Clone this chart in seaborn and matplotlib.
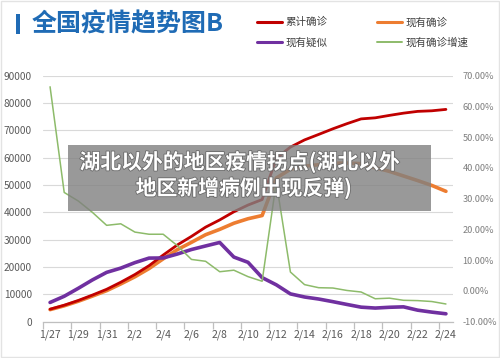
import matplotlib
matplotlib.use('Agg')
import matplotlib.pyplot as plt
import seaborn as sns
import pandas as pd
from matplotlib.patches import Rectangle
from matplotlib.lines import Line2D
from matplotlib.ticker import FuncFormatter, FixedLocator
import matplotlib.patheffects as pe

# ---------------- data ----------------
dates = ['1/27', '1/28', '1/29', '1/30', '1/31', '2/1', '2/2', '2/3', '2/4', '2/5',
         '2/6', '2/7', '2/8', '2/9', '2/10', '2/11', '2/12', '2/13', '2/14', '2/15',
         '2/16', '2/17', '2/18', '2/19', '2/20', '2/21', '2/22', '2/23', '2/24']
cumulative = [4515, 5974, 7711, 9692, 11791, 14380, 17205, 20438, 24324, 28018,
              31161, 34546, 37198, 40171, 42638, 44653, 59804, 63851, 66492, 68500,
              70548, 72436, 74185, 74576, 75465, 76288, 76936, 77150, 77658]
current = [4349, 5739, 7417, 9308, 11289, 13748, 16369, 19381, 22942, 26302,
           28985, 31774, 33738, 35982, 37626, 38800, 52526, 55748, 56873, 57416,
           57934, 58016, 57805, 56303, 54965, 53284, 51606, 49824, 47672]
suspected = [6973, 9239, 12167, 15238, 17988, 19544, 21558, 23214, 23260, 24702,
             26359, 27657, 28942, 23589, 21675, 16067, 13435, 10109, 8969, 8228,
             7264, 6242, 5248, 4922, 5206, 5365, 4148, 3434, 2824]
growth = [66.4, 32.0, 29.2, 25.5, 21.3, 21.8, 19.1, 18.4, 18.4, 14.7,
          10.2, 9.6, 6.2, 6.7, 4.6, 3.1, 35.4, 6.1, 2.0, 1.0,
          0.9, 0.1, -0.4, -2.6, -2.4, -3.1, -3.2, -3.5, -4.3]

series_names = ['累计确诊', '现有确诊', '现有疑似', '现有确诊增速']
series_colors = ['#C00000', '#ED7D31', '#7030A0', '#8DBB6A']
title = '全国疫情趋势图B'
overlay_lines = ['湖北以外的地区疫情拐点(湖北以外', '地区新增病例出现反弹)']

df = pd.DataFrame({'date': dates, 'cumulative': cumulative, 'current': current,
                   'suspected': suspected, 'growth': growth})

# ---------------- style ----------------
sns.set_theme(style='white')
plt.rcParams['font.family'] = ['Noto Sans CJK SC', 'DejaVu Sans']

W, H = 500, 358
fig = plt.figure(figsize=(W / 100, H / 100), dpi=100)
fig.patch.set_facecolor('white')

ax = fig.add_axes([43 / W, 1 - 321.5 / H, 410 / W, 245.8 / H])

sns.lineplot(data=df, x='date', y='current', ax=ax, color=series_colors[1],
             lw=2.6, sort=False)
sns.lineplot(data=df, x='date', y='cumulative', ax=ax, color=series_colors[0],
             lw=2.0, sort=False)
sns.lineplot(data=df, x='date', y='suspected', ax=ax, color=series_colors[2],
             lw=2.6, sort=False)

ax2 = ax.twinx()
sns.lineplot(data=df, x='date', y='growth', ax=ax2, color=series_colors[3],
             lw=1.1, sort=False)

ax.set_xlim(-0.5, len(dates) - 0.5)
ax.set_ylim(0, 90000)
ax.set_yticks(range(0, 90001, 10000))
ax2.set_ylim(-10, 70)
ax2.set_yticks(range(-10, 71, 10))
ax2.yaxis.set_major_formatter(FuncFormatter(lambda v, p: f'{v:.2f}%'))

ax.set_xticks(range(0, len(dates), 2))
ax.set_xticklabels(dates[::2])
ax.xaxis.set_minor_locator(FixedLocator([i - 0.5 for i in range(0, len(dates), 2)]))

ax.set_xlabel('')
ax.set_ylabel('')
ax2.set_ylabel('')
ax2.set_xlabel('')

ax.yaxis.grid(True, color='#d9d9d9', lw=0.8)
ax.xaxis.grid(False)
ax2.grid(False)

for s in ['left', 'right', 'top']:
    ax.spines[s].set_visible(False)
for s in ax2.spines.values():
    s.set_visible(False)
ax.spines['bottom'].set_color('#bfbfbf')
ax.spines['bottom'].set_linewidth(0.9)

ax.tick_params(axis='y', length=0, labelsize=7.3, labelcolor='#595959', pad=8)
ax.tick_params(axis='x', which='major', length=0, labelsize=7.6,
               labelcolor='#595959', pad=6)
ax.tick_params(axis='x', which='minor', length=5, width=0.9, color='#bfbfbf',
               direction='out', bottom=True)
ax2.tick_params(axis='y', length=0, labelsize=6.6, labelcolor='#7f7f7f', pad=7)

# ---------------- header ----------------
fig.add_artist(Rectangle((16 / W, 1 - 34 / H), 3.5 / W, 20.5 / H,
                         transform=fig.transFigure, facecolor='#1F6BB5',
                         edgecolor='none'))
fig.text(32 / W, 1 - 24 / H, title, ha='left', va='center', fontsize=18,
         color='#1F6BB5', fontweight='bold')

leg_pos = [(257, 22), (377, 22), (257, 42), (377, 42)]
for (lx, ly), name, col in zip(leg_pos, series_names, series_colors):
    fig.add_artist(Line2D([lx / W, (lx + 25) / W], [1 - ly / H, 1 - ly / H],
                          transform=fig.transFigure, color=col,
                          lw=2.2 if col != series_colors[3] else 1.4))
    fig.text((lx + 28) / W, 1 - ly / H, name, ha='left', va='center',
             fontsize=7.6, color='#404040')

# ---------------- overlay caption ----------------
fig.add_artist(Rectangle((68 / W, 1 - 211 / H), (431 - 68) / W, 66 / H,
                         transform=fig.transFigure, facecolor='#808080',
                         edgecolor='none', alpha=0.8, zorder=5))
shadow = [pe.withStroke(linewidth=1.2, foreground='#6a6a6a')]
fig.text(240 / W, 1 - 162 / H, overlay_lines[0], ha='center', va='center',
         fontsize=15, color='white', fontweight='bold', zorder=6,
         path_effects=shadow)
fig.text(244 / W, 1 - 188 / H, overlay_lines[1], ha='center', va='center',
         fontsize=15, color='white', fontweight='bold', zorder=6,
         path_effects=shadow)

# border
fig.add_artist(Rectangle((0.002, 0.002), 0.996, 0.996, transform=fig.transFigure,
                         fill=False, edgecolor='#e3e3e3', lw=1, zorder=7))

fig.savefig('out.png', dpi=100)
